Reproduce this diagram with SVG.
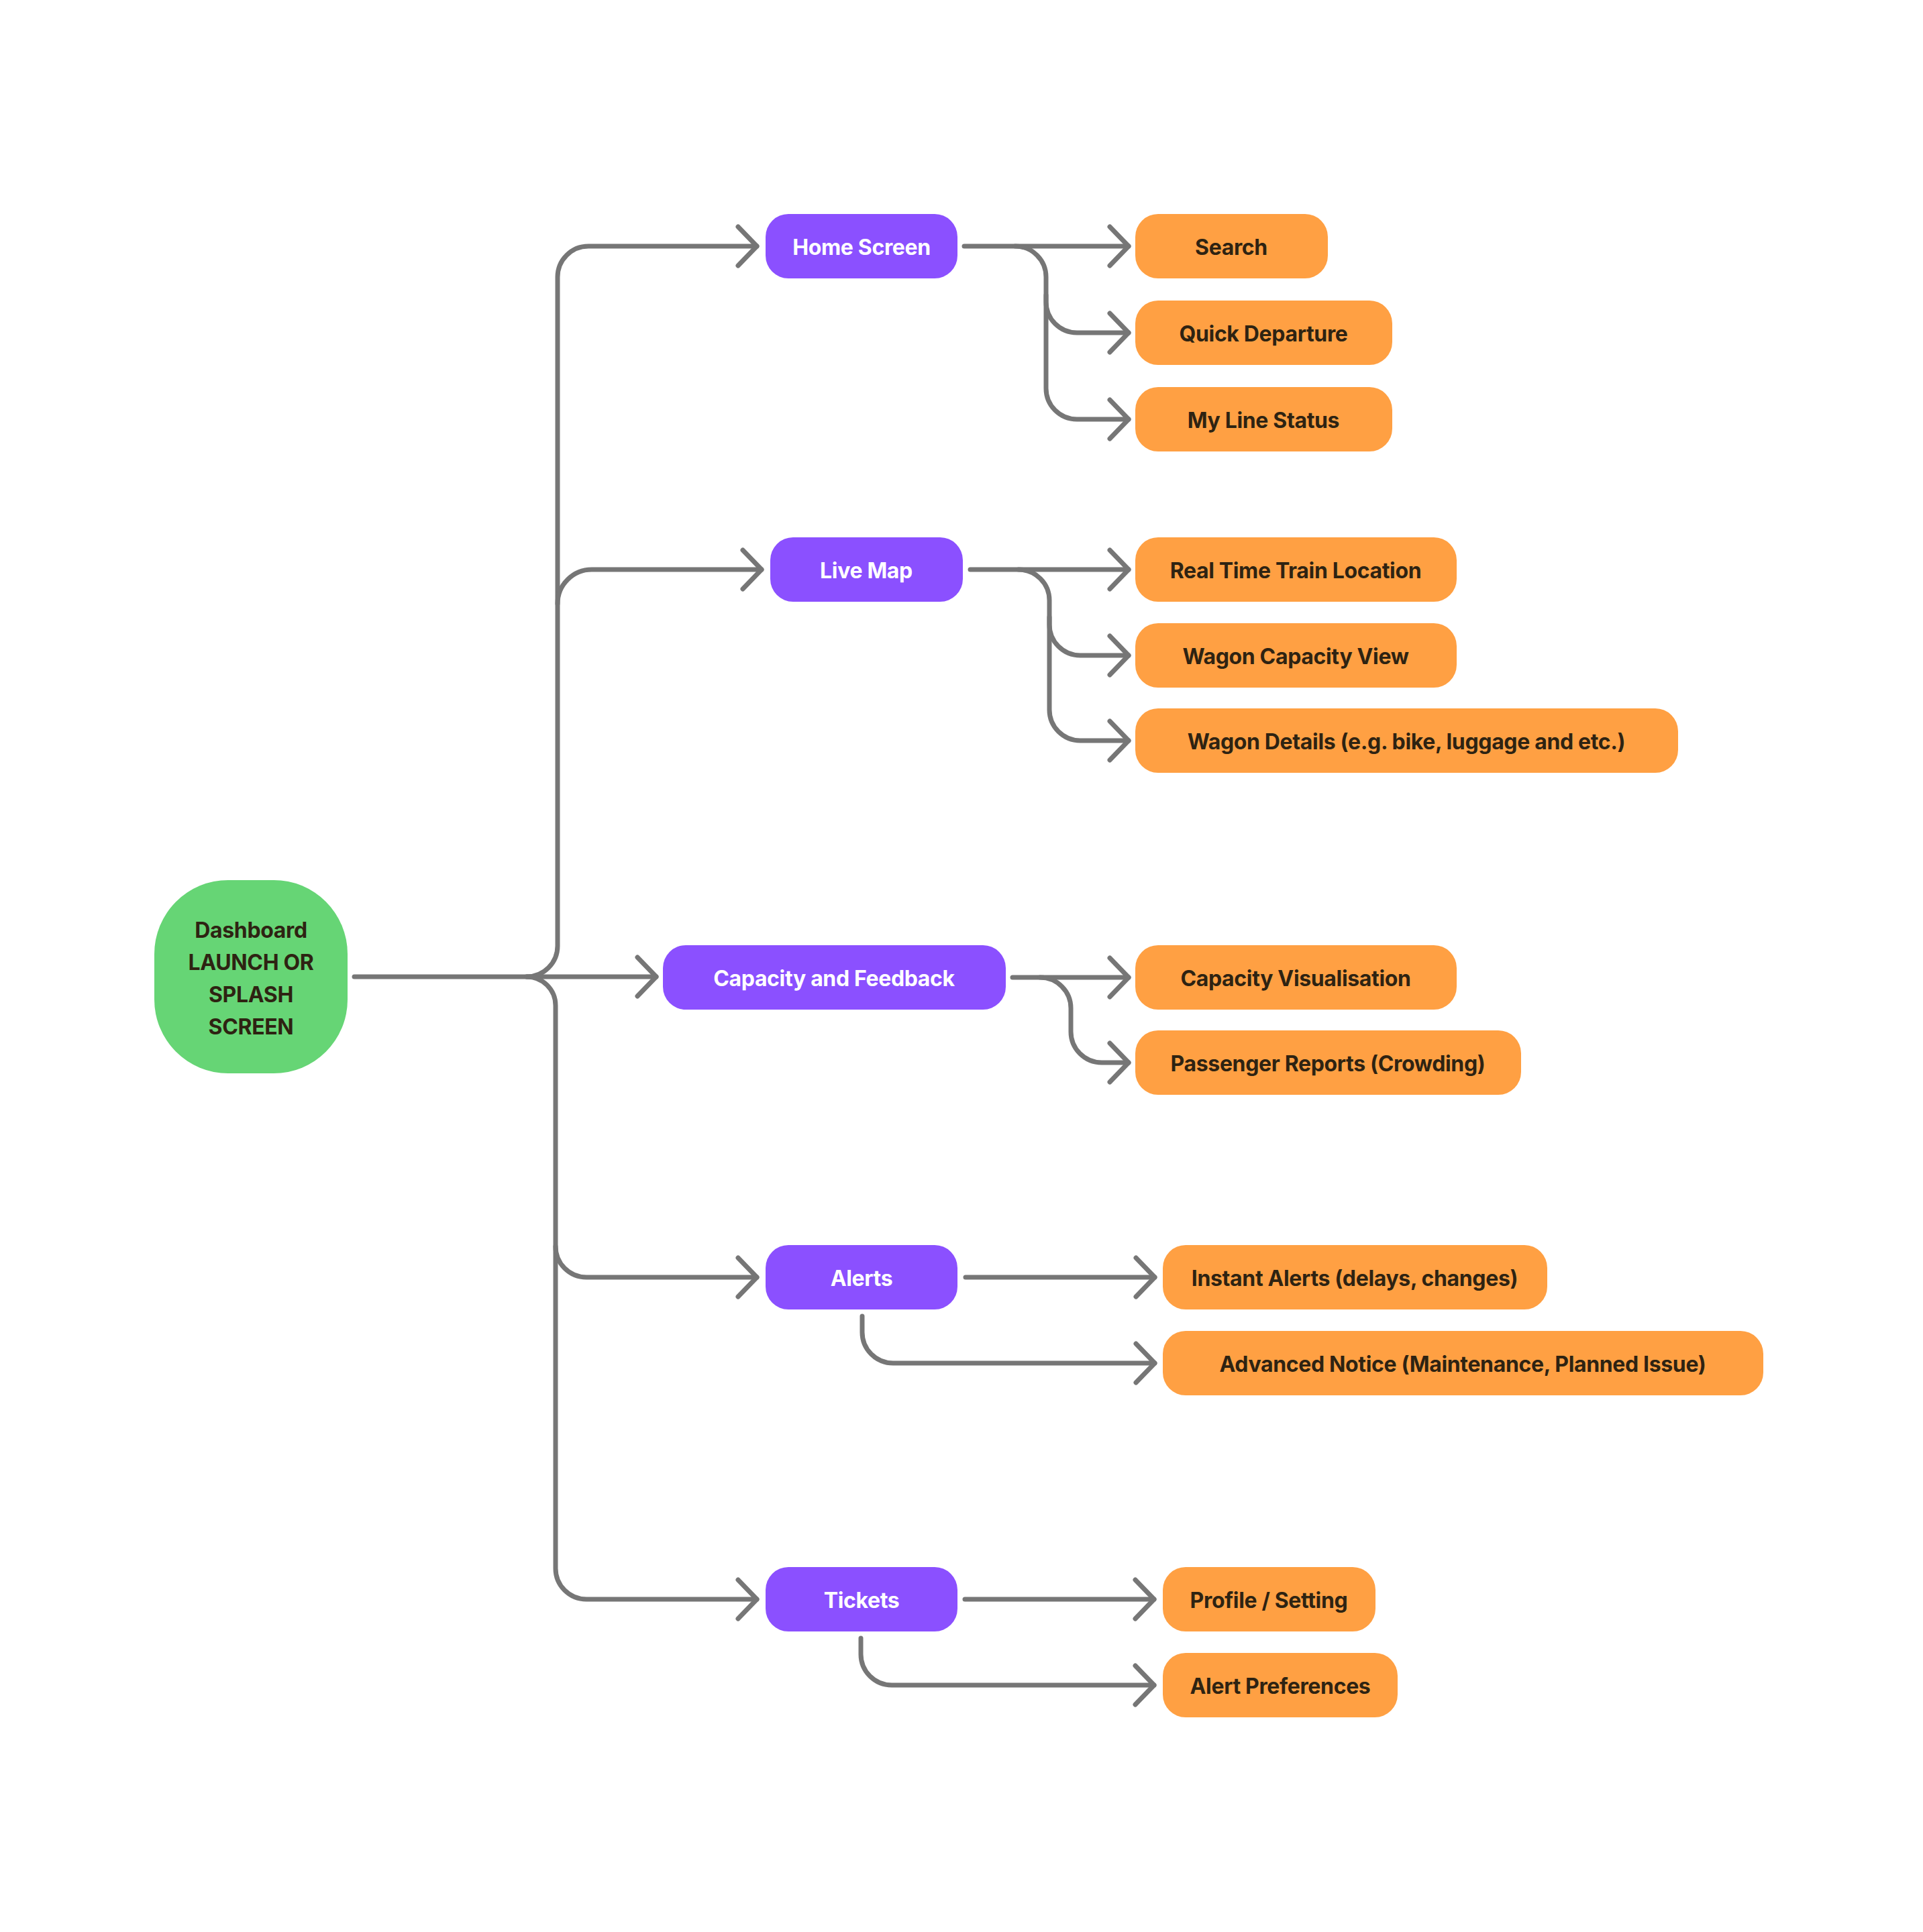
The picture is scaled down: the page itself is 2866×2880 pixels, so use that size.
<svg xmlns="http://www.w3.org/2000/svg" width="2866" height="2880" viewBox="0 0 2866 2880">
<defs>
<marker id="arr" markerUnits="userSpaceOnUse" orient="auto" overflow="visible" refX="0" refY="0" markerWidth="1" markerHeight="1">
<path d="M -28 -29 L 0 0 L -28 29" fill="none" stroke="#767676" stroke-width="7" stroke-linecap="round" stroke-linejoin="round"/>
</marker>
</defs>
<style>
.c{fill:none;stroke:#767676;stroke-width:7;stroke-linecap:round;stroke-linejoin:round}
.a{marker-end:url(#arr)}
.p{fill:#8B50FF}
.o{fill:#FFA043}
.g{fill:#66D575}
.t{font-family:Inter,"Noto Sans","Liberation Sans",sans-serif;font-weight:700;font-size:32px;letter-spacing:-0.35px;text-anchor:middle}
.w{fill:#FFFFFF}
.d{fill:#2E2312}
</style>
<rect width="2866" height="2880" fill="#FFFFFF"/>
<g id="connectors">
<path class="c a" d="M 528 1456 H 978"/>
<path class="c a" d="M 785 1456 A 46 46 0 0 0 831 1410 V 413 A 46 46 0 0 1 877 367 H 1128"/>
<path class="c a" d="M 831 900 A 51 51 0 0 1 882 849 H 1135"/>
<path class="c a" d="M 785 1456 A 43 43 0 0 1 828 1499 V 2338 A 46 46 0 0 0 874 2384 H 1128"/>
<path class="c a" d="M 828 1858 A 46 46 0 0 0 874 1904 H 1128"/>
<path class="c a" d="M 1437 367 H 1682"/>
<path class="c a" d="M 1513 367 A 46 46 0 0 1 1559 413 V 450 A 46 46 0 0 0 1605 496 H 1682"/>
<path class="c a" d="M 1559 440 V 579 A 46 46 0 0 0 1605 625 H 1682"/>
<path class="c a" d="M 1446 849 H 1682"/>
<path class="c a" d="M 1518 849 A 46 46 0 0 1 1564 895 V 931 A 46 46 0 0 0 1610 977 H 1682"/>
<path class="c a" d="M 1564 920 V 1058 A 46 46 0 0 0 1610 1104 H 1682"/>
<path class="c a" d="M 1509 1457 H 1682"/>
<path class="c a" d="M 1550 1457 A 46 46 0 0 1 1596 1503 V 1538 A 46 46 0 0 0 1642 1584 H 1682"/>
<path class="c a" d="M 1439 1904 H 1721"/>
<path class="c a" d="M 1285 1962 V 1986 A 46 46 0 0 0 1331 2032 H 1721"/>
<path class="c a" d="M 1438 2384 H 1720"/>
<path class="c a" d="M 1283 2442 V 2466 A 46 46 0 0 0 1329 2512 H 1720"/>
</g>
<g id="dashboard">
<rect class="g" x="230" y="1312" width="288" height="288" rx="110"/>
<text class="t d" x="374" y="1398">Dashboard</text>
<text class="t d" x="374" y="1446">LAUNCH OR</text>
<text class="t d" x="374" y="1494">SPLASH</text>
<text class="t d" x="374" y="1542">SCREEN</text>
</g>
<g id="home-screen"><rect class="p" x="1141" y="319" width="286" height="96" rx="34"/><text class="t w" x="1284" y="380">Home Screen</text></g>
<g id="live-map"><rect class="p" x="1148" y="801" width="287" height="96" rx="34"/><text class="t w" x="1291" y="862">Live Map</text></g>
<g id="capacity-feedback"><rect class="p" x="988" y="1409" width="511" height="96" rx="34"/><text class="t w" x="1243" y="1470">Capacity and Feedback</text></g>
<g id="alerts"><rect class="p" x="1141" y="1856" width="286" height="96" rx="34"/><text class="t w" x="1284" y="1917">Alerts</text></g>
<g id="tickets"><rect class="p" x="1141" y="2336" width="286" height="96" rx="34"/><text class="t w" x="1284" y="2397">Tickets</text></g>
<g id="search"><rect class="o" x="1692" y="319" width="287" height="96" rx="34"/><text class="t d" x="1835" y="380">Search</text></g>
<g id="quick-departure"><rect class="o" x="1692" y="448" width="383" height="96" rx="34"/><text class="t d" x="1883" y="509">Quick Departure</text></g>
<g id="my-line-status"><rect class="o" x="1692" y="577" width="383" height="96" rx="34"/><text class="t d" x="1883" y="638">My Line Status</text></g>
<g id="real-time-train-location"><rect class="o" x="1692" y="801" width="479" height="96" rx="34"/><text class="t d" x="1931" y="862">Real Time Train Location</text></g>
<g id="wagon-capacity-view"><rect class="o" x="1692" y="929" width="479" height="96" rx="34"/><text class="t d" x="1931" y="990">Wagon Capacity View</text></g>
<g id="wagon-details"><rect class="o" x="1692" y="1056" width="809" height="96" rx="34"/><text class="t d" x="2096" y="1117">Wagon Details (e.g. bike, luggage and etc.)</text></g>
<g id="capacity-visualisation"><rect class="o" x="1692" y="1409" width="479" height="96" rx="34"/><text class="t d" x="1931" y="1470">Capacity Visualisation</text></g>
<g id="passenger-reports"><rect class="o" x="1692" y="1536" width="575" height="96" rx="34"/><text class="t d" x="1979" y="1597">Passenger Reports (Crowding)</text></g>
<g id="instant-alerts"><rect class="o" x="1733" y="1856" width="573" height="96" rx="34"/><text class="t d" x="2019" y="1917">Instant Alerts (delays, changes)</text></g>
<g id="advanced-notice"><rect class="o" x="1733" y="1984" width="895" height="96" rx="34"/><text class="t d" x="2180" y="2045">Advanced Notice (Maintenance, Planned Issue)</text></g>
<g id="profile-setting"><rect class="o" x="1733" y="2336" width="317" height="96" rx="34"/><text class="t d" x="1891" y="2397">Profile / Setting</text></g>
<g id="alert-preferences"><rect class="o" x="1733" y="2464" width="350" height="96" rx="34"/><text class="t d" x="1908" y="2525">Alert Preferences</text></g>
</svg>
